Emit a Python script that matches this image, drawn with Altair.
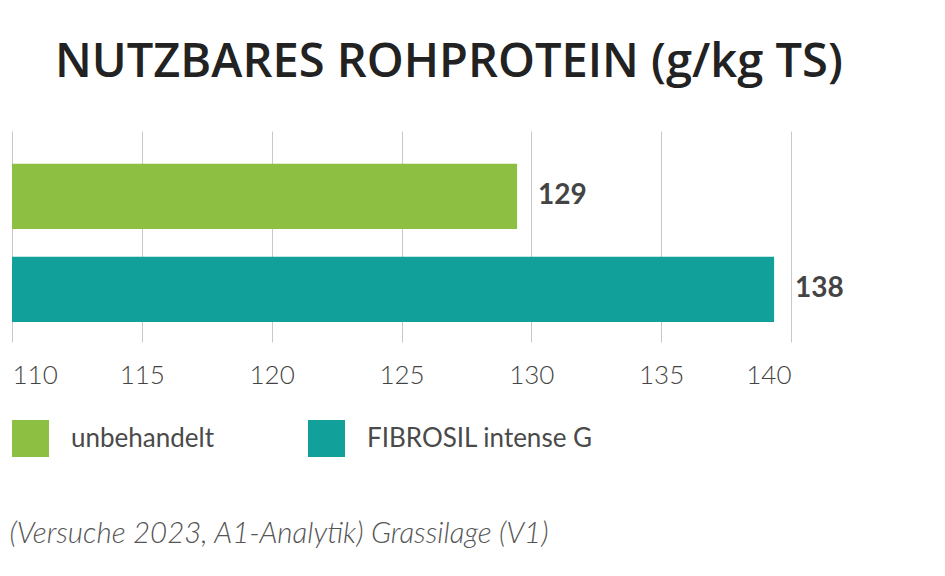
import altair as alt
import pandas as pd

categories = ["unbehandelt", "FIBROSIL intense G"]
values = [129.45, 139.35]
labels = ["129", "138"]
colors = ["#8cbf42", "#12a19a"]
ticks = [110, 115, 120, 125, 130, 135, 140]
base = 110

df = pd.DataFrame({"cat": categories, "val": values, "lab": labels, "base": [base, base]})

y = alt.Y("cat:N", sort=categories, axis=None,
          scale=alt.Scale(paddingInner=0.30, paddingOuter=0.284, align=0.62))
x = alt.X("val:Q",
          scale=alt.Scale(domain=[110, 140], nice=False, zero=False),
          axis=alt.Axis(values=ticks, grid=True, gridColor="#c8c8c8", gridWidth=1,
                        domain=False, ticks=False, labelPadding=20,
                        labelFont="Lato", labelFontSize=26, labelFontWeight=300,
                        labelColor="#444444",
                        title="(Versuche 2023, A1-Analytik) Grassilage (V1)",
                        titleFont="Lato", titleFontSize=29.5, titleFontStyle="italic",
                        titleFontWeight=300, titleColor="#555555",
                        titleAnchor="start", titleAlign="left", titleBaseline="middle",
                        titleX=-3, titleY=191))

bars = alt.Chart(df).mark_bar().encode(
    x=x, x2="base:Q", y=y,
    color=alt.Color("cat:N", sort=categories,
                    scale=alt.Scale(domain=categories, range=colors),
                    legend=alt.Legend(title=None, orient="none", legendX=0, legendY=289,
                                      direction="horizontal", symbolType="square",
                                      symbolSize=1369, symbolStrokeWidth=0,
                                      labelFont="Lato", labelFontSize=26,
                                      labelColor="#4a4a4a", labelOffset=22,
                                      columnPadding=94, labelLimit=400)),
)

text = alt.Chart(df).mark_text(align="left", baseline="middle", dx=21,
                               font="Lato", fontSize=28, fontWeight="bold",
                               color="#444444").encode(
    x="val:Q", y=alt.Y("cat:N", sort=categories), text="lab:N")

chart = alt.layer(bars, text).properties(
    width=779, height=211,
    autosize=alt.AutoSizeParams(type="none"),
    padding={"left": 4, "top": 123, "right": 130, "bottom": 220},
    title=alt.Title("NUTZBARES ROHPROTEIN (g/kg TS)", anchor="start", frame="group",
                    dx=43, offset=7, baseline="alphabetic",
                    font="Open Sans", fontSize=47, fontWeight=600, color="#222222"),
).configure(background="white", view={"stroke": None})

chart.save("out.html", embed_options={"renderer": "svg", "actions": False})
